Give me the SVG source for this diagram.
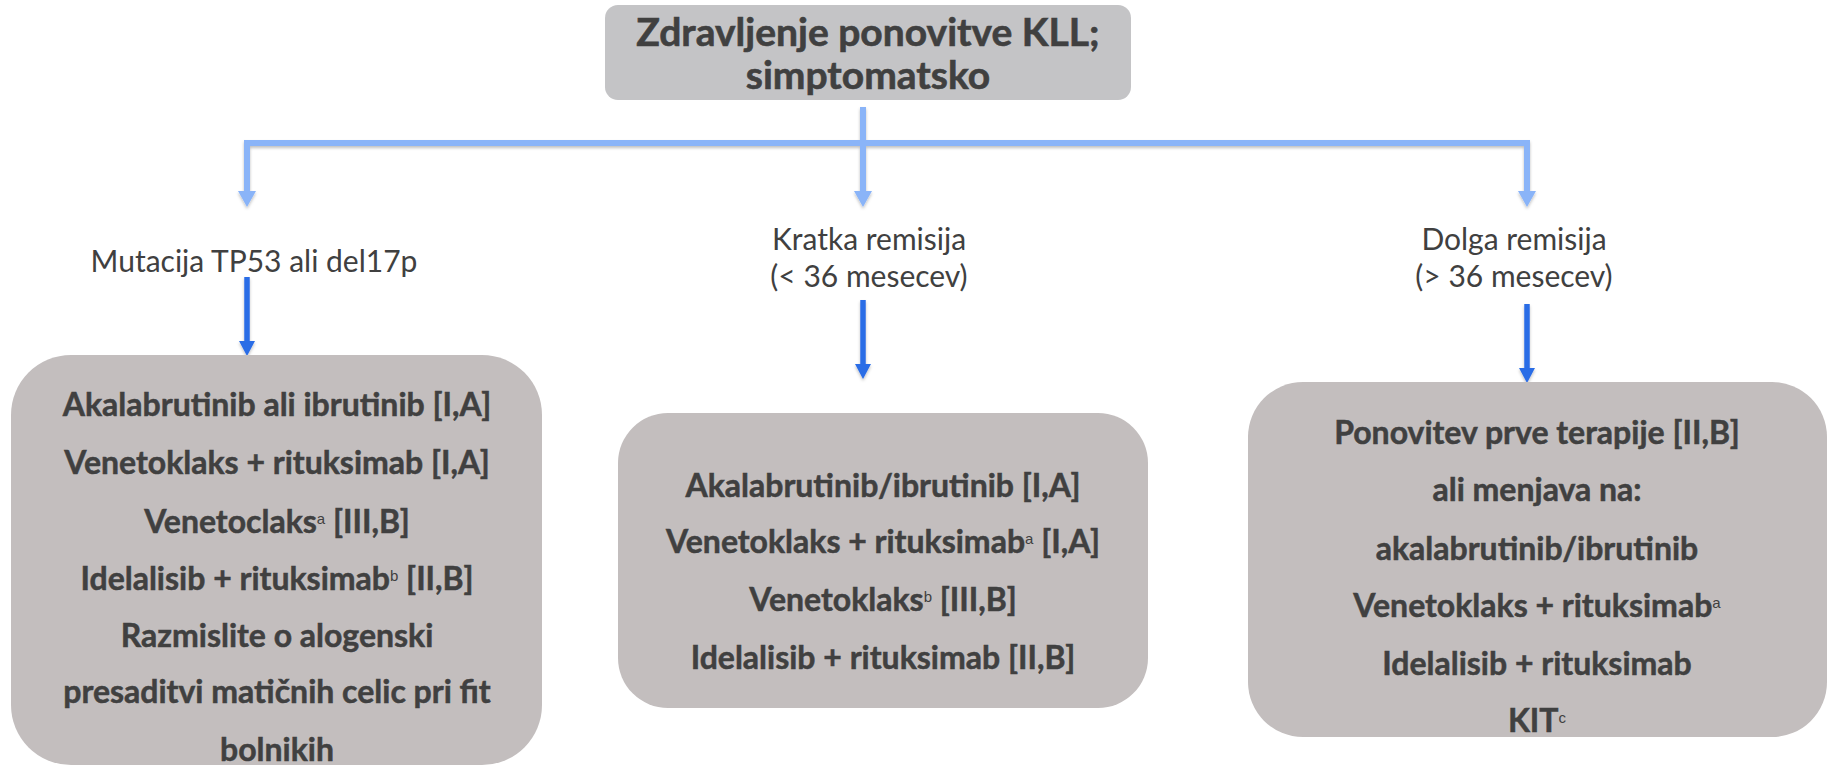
<svg xmlns="http://www.w3.org/2000/svg" width="1829" height="767" viewBox="0 0 1829 767">
<defs>
<style>
.t{font-family:Lato,"Open Sans","Liberation Sans",sans-serif;fill:#404040;text-anchor:middle}
.b{font-weight:bold;font-size:32px;stroke:#404040;stroke-width:0.5}
.title{font-weight:bold;font-size:39px;stroke:#404040;stroke-width:0.6}
.lbl{font-weight:normal;font-size:30px}
.sup{font-family:"Liberation Sans",Arial,sans-serif;font-weight:normal;font-size:15px;stroke:none}
.top{fill:#c4c4c6}
.box{fill:#c3bebe}
.lc{stroke:#8ab4f8;stroke-width:6;fill:none}
.dc{stroke:#2c6de6;stroke-width:5.5;fill:none}
</style>
<filter id="sh" x="-50%" y="-50%" width="200%" height="200%"><feDropShadow dx="0" dy="2" stdDeviation="1.5" flood-color="#000" flood-opacity="0.25"/></filter>
<marker id="ahl" viewBox="0 0 16 18" refX="1" refY="9" markerWidth="16" markerHeight="18" orient="auto" markerUnits="userSpaceOnUse"><path d="M0,0 L16,9 L0,18 Z" fill="#8ab4f8"/></marker>
<marker id="ahd" viewBox="0 0 15 16" refX="1" refY="8" markerWidth="15" markerHeight="16" orient="auto" markerUnits="userSpaceOnUse"><path d="M0,0 L15,8 L0,16 Z" fill="#2c6de6"/></marker>
</defs>
<rect width="1829" height="767" fill="#ffffff"/>

<g id="connectors" filter="url(#sh)">
<path class="lc" d="M863,107 V143"/>
<path class="lc" d="M247,143 H1527"/>
<path class="lc" d="M247,140 V192" marker-end="url(#ahl)"/>
<path class="lc" d="M863,143 V192" marker-end="url(#ahl)"/>
<path class="lc" d="M1527,140 V192" marker-end="url(#ahl)"/>
<path class="dc" d="M247,277 V342" marker-end="url(#ahd)"/>
<path class="dc" d="M863,300 V365" marker-end="url(#ahd)"/>
<path class="dc" d="M1527,304 V369" marker-end="url(#ahd)"/>
</g>

<g id="node-root">
<rect class="top" x="605" y="5" width="526" height="95" rx="13"/>
<text class="t title" x="868" y="46">Zdravljenje ponovitve KLL;</text>
<text class="t title" x="868" y="89">simptomatsko</text>
</g>

<g id="label-tp53">
<text class="t lbl" x="254" y="272">Mutacija TP53 ali del17p</text>
</g>
<g id="label-short">
<text class="t lbl" x="869" y="250">Kratka remisija</text>
<text class="t lbl" x="869" y="287">(&lt; 36 mesecev)</text>
</g>
<g id="label-long">
<text class="t lbl" x="1514" y="250">Dolga remisija</text>
<text class="t lbl" x="1514" y="287">(&gt; 36 mesecev)</text>
</g>

<g id="node-left">
<rect class="box" x="11" y="355" width="531" height="410" rx="60"/>
<text class="t b" x="277" y="416">Akalabrutinib ali ibrutinib [I,A]</text>
<text class="t b" x="277" y="474">Venetoklaks + rituksimab [I,A]</text>
<text class="t b" x="277" y="533">Venetoclaks<tspan class="sup" dy="-9">a</tspan><tspan dy="9"> [III,B]</tspan></text>
<text class="t b" x="277" y="590">Idelalisib + rituksimab<tspan class="sup" dy="-9">b</tspan><tspan dy="9"> [II,B]</tspan></text>
<text class="t b" x="277" y="647">Razmislite o alogenski</text>
<text class="t b" x="277" y="703">presaditvi matičnih celic pri fit</text>
<text class="t b" x="277" y="761">bolnikih</text>
</g>

<g id="node-middle">
<rect class="box" x="618" y="413" width="530" height="295" rx="50"/>
<text class="t b" x="883" y="497">Akalabrutinib/ibrutinib [I,A]</text>
<text class="t b" x="883" y="553">Venetoklaks + rituksimab<tspan class="sup" dy="-9">a</tspan><tspan dy="9"> [I,A]</tspan></text>
<text class="t b" x="883" y="611">Venetoklaks<tspan class="sup" dy="-9">b</tspan><tspan dy="9"> [III,B]</tspan></text>
<text class="t b" x="883" y="669">Idelalisib + rituksimab [II,B]</text>
</g>

<g id="node-right">
<rect class="box" x="1248" y="382" width="579" height="355" rx="55"/>
<text class="t b" x="1537" y="444">Ponovitev prve terapije [II,B]</text>
<text class="t b" x="1537" y="501">ali menjava na:</text>
<text class="t b" x="1537" y="560">akalabrutinib/ibrutinib</text>
<text class="t b" x="1537" y="617">Venetoklaks + rituksimab<tspan class="sup" dy="-9">a</tspan></text>
<text class="t b" x="1537" y="675">Idelalisib + rituksimab</text>
<text class="t b" x="1537" y="732">KIT<tspan class="sup" dy="-9">c</tspan></text>
</g>
</svg>
